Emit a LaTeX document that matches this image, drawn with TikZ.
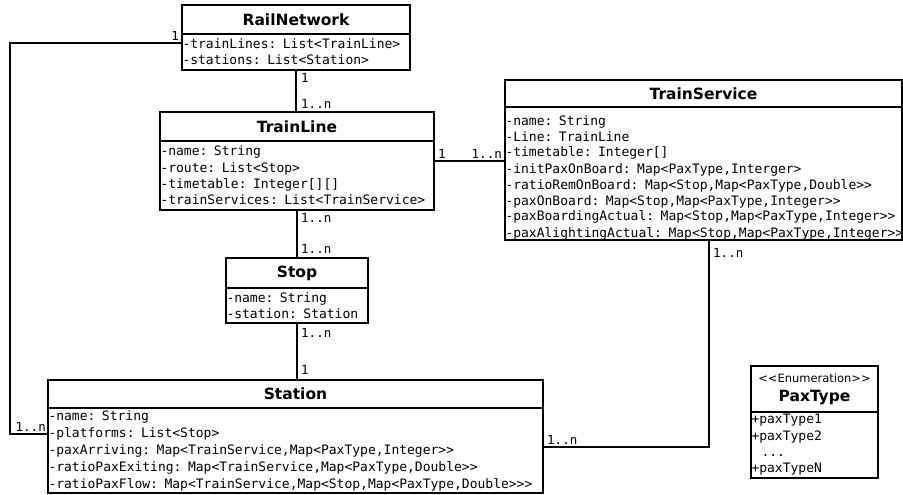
\documentclass[tikz,border=0pt]{standalone}
\usepackage{fontspec}
\newfontfamily\monof{DejaVu Sans Mono}
\newfontfamily\sansf{DejaVu Sans}
\newcommand\attrfont{\monof\fontsize{13}{16.3}\selectfont}
\newcommand\titlefont{\sansf\bfseries\fontsize{15.5}{17}\selectfont}
\newcommand\stereofont{\sansf\mdseries\fontsize{11.5}{12}\selectfont}
\newcommand\multfont{\monof\fontsize{12.5}{14}\selectfont}
\begin{document}
\begin{tikzpicture}[x=1pt,y=-1pt,
  hdr/.style={draw, line width=1.6pt, anchor=north west, inner sep=0pt, outer sep=0pt, font=\titlefont, align=center},
  bdy/.style={draw, line width=1.6pt, anchor=north west, inner xsep=0.5pt, inner ysep=0pt, outer sep=0pt, font=\attrfont, align=left},
  mult/.style={font=\multfont, inner sep=1pt},
  conn/.style={line width=1.6pt}]
\useasboundingbox (0,0) rectangle (903,495);

% RailNetwork
\node[hdr, minimum width=228pt, minimum height=29pt] (rn) at (182,5) {RailNetwork};
\node[bdy, minimum width=228pt, minimum height=36pt, text width=227pt] (rnb) at (rn.south west)
  {-trainLines: List<TrainLine>\\-stations: List<Station>};

% TrainLine
\node[hdr, minimum width=274pt, minimum height=29pt] (tl) at (160,112) {TrainLine};
\node[bdy, minimum width=274pt, minimum height=69pt, text width=273pt] (tlb) at (tl.south west)
  {-name: String\\-route: List<Stop>\\-timetable: Integer[][]\\-trainServices: List<TrainService>};

% TrainService
\node[hdr, minimum width=397pt, minimum height=27pt] (ts) at (505,80) {TrainService};
\node[bdy, minimum width=397pt, minimum height=131pt, text width=396pt, font=\monof\fontsize{13}{16}\selectfont] (tsb) at (ts.south west)
  {\rule{0pt}{18pt}-name: String\\-Line: TrainLine\\-timetable: Integer[]\\-initPaxOnBoard: Map<PaxType,Interger>\\-ratioRemOnBoard: Map<Stop,Map<PaxType,Double>>\\-paxOnBoard: Map<Stop,Map<PaxType,Integer>>\\-paxBoardingActual: Map<Stop,Map<PaxType,Integer>>\\\makebox[0pt][l]{-paxAlightingActual: Map<Stop,Map<PaxType,Integer>>}};

% Stop
\node[hdr, minimum width=142pt, minimum height=30pt] (sp) at (226,258) {Stop};
\node[bdy, minimum width=142pt, minimum height=35pt, text width=141pt] (spb) at (sp.south west)
  {-name: String\\-station: Station};

% Station
\node[hdr, minimum width=495pt, minimum height=28pt] (st) at (48,380) {Station};
\node[bdy, minimum width=495pt, minimum height=85pt, text width=494pt, font=\monof\fontsize{13}{17}\selectfont] (stb) at (st.south west)
  {-name: String\\-platforms: List<Stop>\\-paxArriving: Map<TrainService,Map<PaxType,Integer>>\\-ratioPaxExiting: Map<TrainService,Map<PaxType,Double>>\\-ratioPaxFlow: Map<TrainService,Map<Stop,Map<PaxType,Double>>>};

% PaxType
\node[hdr, minimum width=127pt, minimum height=46pt] (px) at (751,366) {{\stereofont <<Enumeration>>}\\[2pt]PaxType};
\node[bdy, minimum width=127pt, minimum height=66pt, text width=126pt] (pxb) at (px.south west)
  {+paxType1\\+paxType2\\\hspace*{10pt}...\\+paxTypeN};

% connectors
\coordinate (k1) at (10,43);
\coordinate (k2) at (10,434);
\coordinate (k3) at (0,161);
\coordinate (k4) at (709,447);
\draw[conn] (rnb.south) -- (rnb.south |- tl.north);
\draw[conn] (tlb.south) -- (tlb.south |- sp.north);
\draw[conn] (spb.south) -- (spb.south |- st.north);
\draw[conn] (rnb.west |- k1) -- (k1) -- (k2) -- (stb.west |- k2);
\draw[conn] (tlb.east |- k3) -- (tsb.west |- k3);
\draw[conn] (tsb.south -| k4) -- (k4) -- (stb.east |- k4);

% multiplicities
\node[mult, anchor=south east] (m1) at (180,42) {1};
\node[mult, anchor=west] (m2) at (300,78) {1};
\node[mult, anchor=west] (m3) at (300,104) {1..n};
\node[mult, anchor=west] (m4) at (300,218) {1..n};
\node[mult, anchor=west] (m5) at (300,249) {1..n};
\node[mult, anchor=west] (m6) at (300,333) {1..n};
\node[mult, anchor=west] (m7) at (300,370) {1};
\node[mult, anchor=south west] (m8) at (437,160) {1};
\node[mult, anchor=south east] (m9) at (503,160) {1..n};
\node[mult, anchor=west] (m10) at (712,253) {1..n};
\node[mult, anchor=south west] (m11) at (546,446) {1..n};
\node[mult, anchor=south east] (m12) at (47,433) {1..n};
\end{tikzpicture}
\end{document}
